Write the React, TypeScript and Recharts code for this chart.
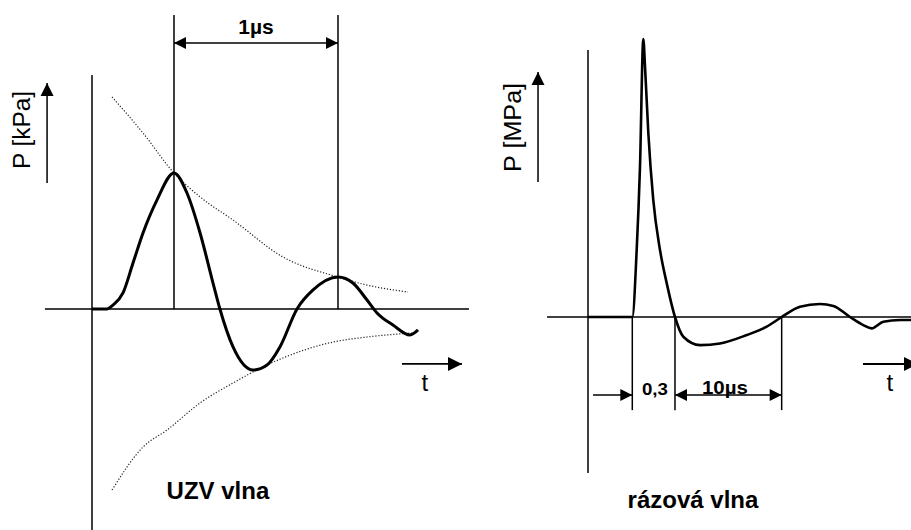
import React from 'react';
import { ComposedChart, Line, XAxis, YAxis, ReferenceLine, ReferenceDot } from 'recharts';

// ---- Left panel: UZV vlna (ultrasound wave), time in µs, relative pressure [kPa]
const uzvTime = [0, 0.09, 0.128, 0.189, 0.25, 0.311, 0.396, 0.5, 0.579, 0.659, 0.738, 0.78, 0.86, 0.982, 1.067, 1.146, 1.25, 1.348, 1.5, 1.591, 1.677, 1.738, 1.835, 1.939, 1.988];
const uzvPressure = [0, 0, 0.029, 0.118, 0.338, 0.559, 0.801, 1.0, 0.853, 0.559, 0.191, 0, -0.279, -0.449, -0.412, -0.279, 0, 0.14, 0.235, 0.191, 0.066, -0.029, -0.118, -0.191, -0.154];
const upperEnvTime = [0.122, 0.311, 0.5, 0.659, 0.86, 1.165, 1.5, 1.677, 1.927];
const upperEnvPressure = [1.559, 1.294, 1.0, 0.824, 0.654, 0.382, 0.235, 0.176, 0.125];
const lowerEnvTime = [0.122, 0.311, 0.457, 0.659, 0.86, 0.982, 1.165, 1.47, 1.677, 1.957];
const lowerEnvPressure = [-1.331, -1.015, -0.89, -0.691, -0.544, -0.463, -0.36, -0.243, -0.206, -0.176];
const uzvMarkers = [0.5, 1.5];

// ---- Right panel: rázová vlna (shock wave), schematic time, relative pressure [MPa]
const shockTime = [0, 4.14, 4.55, 4.86, 5.17, 5.33, 5.64, 6.1, 6.73, 7.36, 8.13, 8.91, 10.47, 12.34, 14.83, 16.7, 18.1, 19.81, 21.68, 22.93, 24.49, 25.73, 26.51, 27.6, 29.16, 30.6];
const shockPressure = [0, 0, 0.241, 0.541, 1.0, 0.9, 0.661, 0.421, 0.241, 0.121, 0, -0.071, -0.101, -0.095, -0.065, -0.035, 0, 0.037, 0.047, 0.04, 0, -0.029, -0.041, -0.017, -0.011, -0.011];
const shockMarkers = [4.14, 8.13, 18.1];

const labels = {
  uzvY: 'P [kPa]',
  uzvSpan: '1\u00b5s',
  uzvT: 't',
  uzvTitle: 'UZV vlna',
  shockY: 'P [MPa]',
  shockRise: '0,3',
  shockSpan: '10\u00b5s',
  shockT: 't',
  shockTitle: 'rázová vlna',
};

const FONT = '"Liberation Sans", Arial, sans-serif';

const zip = (xs: number[], ys: number[]) => xs.map((t, i) => ({ t, p: ys[i] }));

type Heads = 'start' | 'end' | 'both' | 'none';

const headPath = (tx: number, ty: number, fx: number, fy: number, hl: number, hw: number) => {
  const dx = tx - fx;
  const dy = ty - fy;
  const len = Math.sqrt(dx * dx + dy * dy) || 1;
  const ux = dx / len;
  const uy = dy / len;
  const bx = tx - ux * hl;
  const by = ty - uy * hl;
  return `M${tx},${ty}L${bx - uy * hw},${by + ux * hw}L${bx + uy * hw},${by - ux * hw}Z`;
};

const lineShape = (heads: Heads, sw = 1.5, hl = 13, hw = 6.5) => (props: any) => {
  const x1 = Number(props.x1);
  const y1 = Number(props.y1);
  const x2 = Number(props.x2);
  const y2 = Number(props.y2);
  let d = '';
  if (heads === 'end' || heads === 'both') d += headPath(x2, y2, x1, y1, hl, hw);
  if (heads === 'start' || heads === 'both') d += headPath(x1, y1, x2, y2, hl, hw);
  return (
    <g>
      <line x1={x1} y1={y1} x2={x2} y2={y2} stroke="#000" strokeWidth={sw} />
      {d ? <path d={d} fill="#000" /> : null}
    </g>
  );
};

const textShape = (label: string, size: number, weight: string, rotate = false, textLength?: number) => (props: any) => {
  const { cx, cy } = props;
  return (
    <text
      x={cx}
      y={cy}
      textAnchor="middle"
      dominantBaseline="central"
      fontFamily={FONT}
      fontSize={size}
      fontWeight={weight}
      fill="#000"
      textLength={textLength}
      lengthAdjust={textLength ? 'spacingAndGlyphs' : undefined}
      transform={rotate ? `rotate(-90 ${cx} ${cy})` : undefined}
    >
      {label}
    </text>
  );
};

const seg = (xa: number, ya: number, xb: number, yb: number) => [
  { x: xa, y: ya },
  { x: xb, y: yb },
];

function LeftPanel() {
  return (
    <ComposedChart width={480} height={530} margin={{ top: 0, right: 0, bottom: 0, left: 0 }}>
      <XAxis type="number" dataKey="t" domain={[-0.561, 2.3659]} allowDataOverflow hide />
      <YAxis type="number" dataKey="p" domain={[-1.625, 2.2721]} allowDataOverflow hide />
      <ReferenceLine segment={seg(-0.287, 0, 2.299, 0)} ifOverflow="visible" shape={lineShape('none')} />
      <ReferenceLine segment={seg(0, 1.721, 0, -1.7)} ifOverflow="visible" shape={lineShape('none')} />
      {uzvMarkers.map((m) => (
        <ReferenceLine key={m} segment={seg(m, 0, m, 2.162)} ifOverflow="visible" shape={lineShape('none')} />
      ))}
      <ReferenceLine segment={seg(uzvMarkers[0], 1.956, uzvMarkers[1], 1.956)} ifOverflow="visible" shape={lineShape('both', 1.5, 12, 6)} />
      <ReferenceLine segment={seg(-0.274, 0.926, -0.274, 1.662)} ifOverflow="visible" shape={lineShape('end')} />
      <ReferenceLine segment={seg(1.89, -0.404, 2.256, -0.404)} ifOverflow="visible" shape={lineShape('end', 1.8, 14, 7)} />
      <Line data={zip(upperEnvTime, upperEnvPressure)} dataKey="p" type="monotone" stroke="#222" strokeWidth={1.2} strokeDasharray="1.2 1.8" dot={false} activeDot={false} isAnimationActive={false} />
      <Line data={zip(lowerEnvTime, lowerEnvPressure)} dataKey="p" type="monotone" stroke="#222" strokeWidth={1.2} strokeDasharray="1.2 1.8" dot={false} activeDot={false} isAnimationActive={false} />
      <Line data={zip(uzvTime, uzvPressure)} dataKey="p" type="monotone" stroke="#000" strokeWidth={3} dot={false} activeDot={false} isAnimationActive={false} />
      <ReferenceDot x={1.0} y={2.074} ifOverflow="visible" shape={textShape(labels.uzvSpan, 21, 'bold')} />
      <ReferenceDot x={-0.427} y={1.316} ifOverflow="visible" shape={textShape(labels.uzvY, 23, 'normal', true, 78)} />
      <ReferenceDot x={2.03} y={-0.544} ifOverflow="visible" shape={textShape(labels.uzvT, 24, 'normal')} />
      <ReferenceDot x={0.768} y={-1.331} ifOverflow="visible" shape={textShape(labels.uzvTitle, 24, 'bold')} />
    </ComposedChart>
  );
}

function RightPanel() {
  return (
    <ComposedChart width={431} height={530} margin={{ top: 0, right: 0, bottom: 0, left: 0 }}>
      <XAxis type="number" dataKey="t" domain={[-10.093, 30.187]} allowDataOverflow hide />
      <YAxis type="number" dataKey="p" domain={[-0.7662, 1.1403]} allowDataOverflow hide />
      <ReferenceLine segment={seg(-3.83, 0, 31, 0)} ifOverflow="visible" shape={lineShape('none')} />
      <ReferenceLine segment={seg(0, 0.96, 0, -0.561)} ifOverflow="visible" shape={lineShape('none')} />
      {shockMarkers.map((m) => (
        <ReferenceLine key={m} segment={seg(m, 0, m, -0.335)} ifOverflow="visible" shape={lineShape('none')} />
      ))}
      <ReferenceLine segment={seg(0.47, -0.281, shockMarkers[0], -0.281)} ifOverflow="visible" shape={lineShape('end', 1.5, 12, 6)} />
      <ReferenceLine segment={seg(shockMarkers[1], -0.281, shockMarkers[2], -0.281)} ifOverflow="visible" shape={lineShape('both', 1.5, 12, 6)} />
      <ReferenceLine segment={seg(-4.67, 0.486, -4.67, 0.881)} ifOverflow="visible" shape={lineShape('end')} />
      <ReferenceLine segment={seg(25.7, -0.169, 30.84, -0.169)} ifOverflow="visible" shape={lineShape('end', 1.8, 14, 7)} />
      <Line data={zip(shockTime, shockPressure)} dataKey="p" type="monotone" stroke="#000" strokeWidth={2.6} dot={false} activeDot={false} isAnimationActive={false} />
      <ReferenceDot x={6.26} y={-0.259} ifOverflow="visible" shape={textShape(labels.shockRise, 17, 'bold', false, 26)} />
      <ReferenceDot x={12.8} y={-0.255} ifOverflow="visible" shape={textShape(labels.shockSpan, 18, 'bold', false, 46)} />
      <ReferenceDot x={-7.01} y={0.682} ifOverflow="visible" shape={textShape(labels.shockY, 23, 'normal', true, 89)} />
      <ReferenceDot x={28.22} y={-0.237} ifOverflow="visible" shape={textShape(labels.shockT, 24, 'normal')} />
      <ReferenceDot x={9.81} y={-0.658} ifOverflow="visible" shape={textShape(labels.shockTitle, 24, 'bold')} />
    </ComposedChart>
  );
}

export default function App() {
  return (
    <div style={{ position: 'absolute', left: 0, top: 0, width: 911, height: 530, background: '#fff', overflow: 'hidden' }}>
      <div style={{ position: 'absolute', left: 0, top: 0 }}>
        <LeftPanel />
      </div>
      <div style={{ position: 'absolute', left: 480, top: 0 }}>
        <RightPanel />
      </div>
    </div>
  );
}
